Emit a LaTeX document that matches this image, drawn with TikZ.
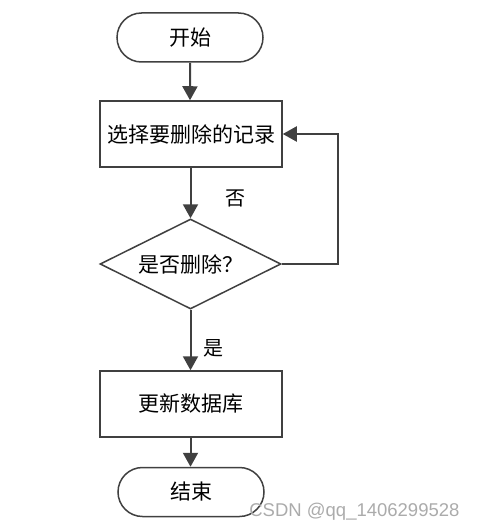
\documentclass[tikz,border=0pt]{standalone}
\usepackage{fontspec}
\setmainfont{Liberation Sans}
\newfontfamily\cjk{Noto Sans CJK SC}
\usetikzlibrary{shapes.geometric,shapes.misc,arrows.meta}
\definecolor{ln}{HTML}{404040}
\tikzset{
  every node/.style={font=\cjk\fontsize{21}{23}\selectfont, text=black},
  term/.style={draw=ln, line width=1.5pt, rounded rectangle, minimum width=146pt, minimum height=49pt, inner sep=0pt},
  proc/.style={draw=ln, line width=1.5pt, rectangle, minimum width=182pt, minimum height=66pt, inner sep=0pt},
  dec/.style={draw=ln, line width=1.5pt, diamond, aspect=2, minimum width=181pt, minimum height=90pt, inner sep=0pt},
  arr/.style={draw=ln, line width=2pt, -{Triangle[length=14pt,width=15pt]}},
  lbl/.style={font=\cjk\fontsize{20}{22}\selectfont}
}
\begin{document}
\begin{tikzpicture}[x=1pt,y=-1pt]
\useasboundingbox (0,0) rectangle (477,532);
\node[term] (start) at (190,37.5) {开始};
\node[proc] (sel) at (191,134) {选择要删除的记录};
\node[dec] (q) at (190.5,264) {是否删除？};
\node[proc] (upd) at (191,404) {更新数据库};
\node[term] (end) at (191,492) {结束};
\coordinate (c1) at (338,264);
\coordinate (c2) at (338,134);
\draw[arr] (start) -- (sel.north -| start);
\draw[arr] (sel.south -| q) -- (q.north);
\draw[arr] (q.south) -- (upd.north -| q);
\draw[arr] (upd.south -| q) -- (end.north -| q);
\draw[arr] (q.east) -- (c1) -- (c2) -- (sel.east);
\node[lbl] (no) at (235,198) {否};
\node[lbl] (yes) at (213,348) {是};
\node[font=\fontsize{18.5}{20}\selectfont, text=black!33, anchor=east] (wm) at (463,512) {CSDN @qq\_1406299528};
\end{tikzpicture}
\end{document}
